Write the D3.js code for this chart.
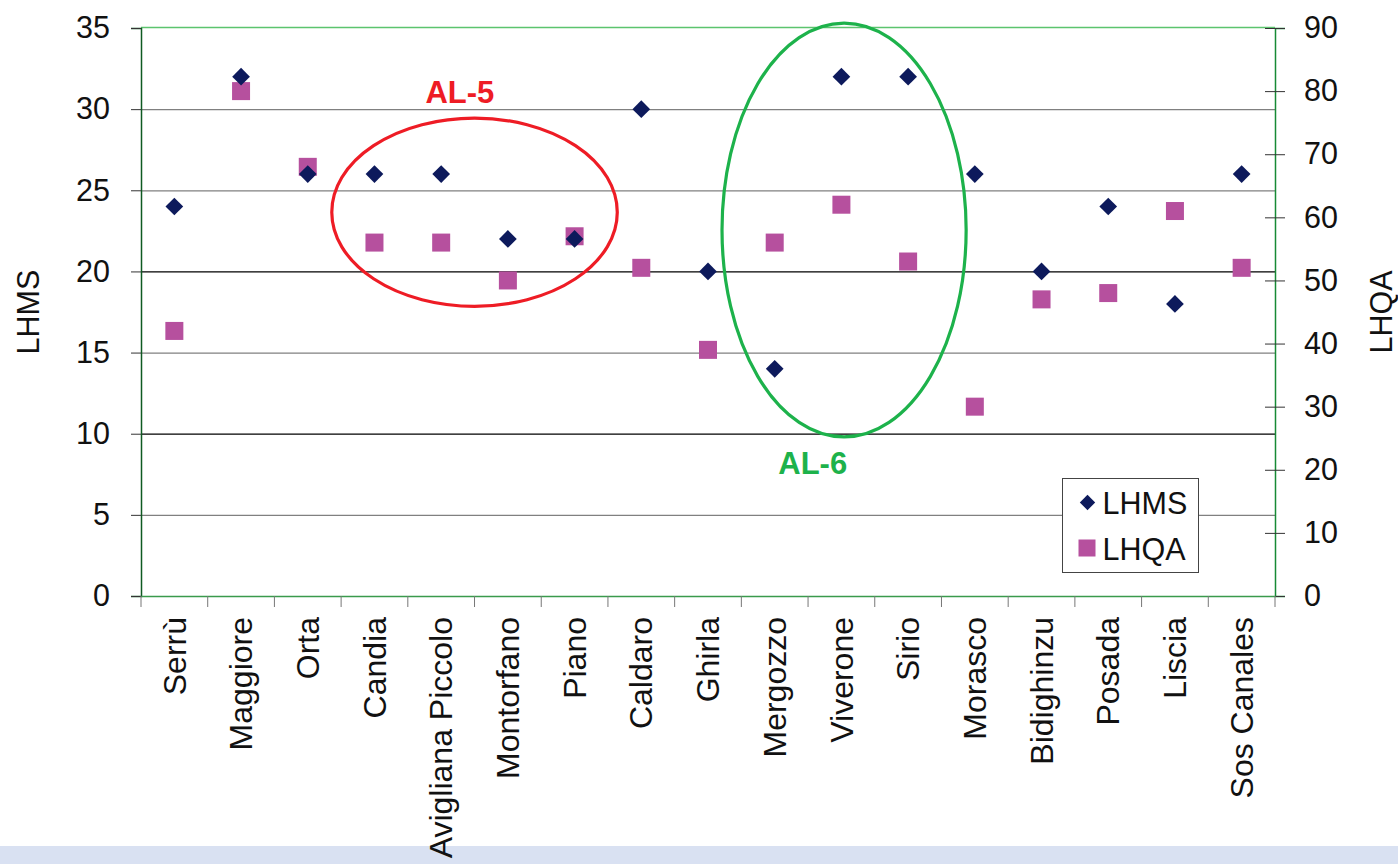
<!DOCTYPE html>
<html><head><meta charset="utf-8">
<script src="https://cdn.jsdelivr.net/npm/d3@7"></script>
<style>
html,body{margin:0;padding:0;background:#fff;}
svg text{font-family:"Liberation Sans",Arial,sans-serif;}
</style></head>
<body>
<svg id="chart" width="1398" height="864"></svg>
<script>
const categories = ["Serrù","Maggiore","Orta","Candia","Avigliana Piccolo","Montorfano","Piano","Caldaro","Ghirla","Mergozzo","Viverone","Sirio","Morasco","Bidighinzu","Posada","Liscia","Sos Canales"];
const lhms = [24,32,26,26,26,22,22,30,20,14,32,32,26,20,24,18,26];
const lhqa = [42,80,68,56,56,50,57,52,39,56,62,53,30,47,48,61,52];
const leftTicks = [0,5,10,15,20,25,30,35];
const rightTicks = [0,10,20,30,40,50,60,70,80,90];
// annotation groups: band position (index units), LHMS centre, radii in band units / LHMS units
const groups = [
  {label:"AL-5", pos:4.5, val:23.65, rx:2.14, ry:5.8, color:"#ee1c25", labelPos:4.28, labelVal:30.4},
  {label:"AL-6", pos:10.04, val:22.55, rx:1.83, ry:12.75, color:"#1db24b", labelPos:9.57, labelVal:7.5}
];

const svg = d3.select("#chart");
const L = 141, R = 1275, T = 28, B = 596;

const x = d3.scaleBand().domain(categories).range([L,R]).padding(0);
const xPos = p => L + x.step()*(p+0.5);
const yL = d3.scaleLinear().domain([0,35]).range([B,T]);
const yR = d3.scaleLinear().domain([0,90]).range([B,T]);

// bottom band
svg.append("rect").attr("x",0).attr("y",846).attr("width",1398).attr("height",18).attr("fill","#d9e1f2");

// gridlines
svg.append("g").selectAll("line").data(leftTicks.filter(d=>d>0 && d<35)).join("line")
  .attr("x1",L).attr("x2",R).attr("y1",d=>yL(d)+0.5).attr("y2",d=>yL(d)+0.5)
  .attr("stroke",d=>(d===10||d===20)?"#000":"#808080").attr("stroke-width",1.3);

// top border
svg.append("line").attr("x1",L).attr("x2",R).attr("y1",T-0.5).attr("y2",T-0.5).attr("stroke","#5cc46e").attr("stroke-width",1.5);

// left axis
const gl = svg.append("g").attr("transform",`translate(${L},0)`)
  .call(d3.axisLeft(yL).tickValues(leftTicks).tickSize(10).tickPadding(21));
gl.select(".domain").attr("stroke","#0f5a22").attr("stroke-width",1.5);
gl.selectAll(".tick line").attr("stroke","#333");
gl.selectAll("text").attr("font-size",30.5).attr("fill","#111").attr("font-family","Liberation Sans, Arial, sans-serif");

// right axis
const gr = svg.append("g").attr("transform",`translate(${R},0)`)
  .call(d3.axisRight(yR).tickValues(rightTicks).tickSize(10).tickPadding(19));
gr.select(".domain").attr("stroke","#178a35").attr("stroke-width",1.5);
gr.selectAll(".tick line").attr("x1",-10).attr("stroke","#333");
gr.selectAll("text").attr("font-size",30.5).attr("fill","#111").attr("font-family","Liberation Sans, Arial, sans-serif");

// bottom axis
const gb = svg.append("g").attr("transform",`translate(0,${B})`)
  .call(d3.axisBottom(x).tickSize(0).tickFormat(""));
gb.select(".domain").attr("stroke","#3a9a4c").attr("stroke-width",1.5);
// boundary ticks
svg.append("g").selectAll("line").data(d3.range(categories.length+1)).join("line")
  .attr("x1",i=>L+i*x.step()).attr("x2",i=>L+i*x.step())
  .attr("y1",B).attr("y2",B+11).attr("stroke","#777").attr("stroke-width",1);
// category labels
svg.append("g").selectAll("text").data(categories).join("text")
  .attr("transform",d=>`translate(${x(d)+x.bandwidth()/2},617) rotate(-90)`)
  .attr("text-anchor","end").attr("dy","0.35em")
  .attr("font-size",32).attr("fill","#111").text(d=>d);

// axis titles
svg.append("text").attr("transform","translate(28,312) rotate(-90)").attr("text-anchor","middle")
  .attr("dy","0.35em").attr("font-size",30.5).attr("fill","#111").text("LHMS");
svg.append("text").attr("transform","translate(1381,312) rotate(-90)").attr("text-anchor","middle")
  .attr("dy","0.35em").attr("font-size",30.5).attr("fill","#111").text("LHQA");

// ellipses
const sx = x.step(), sy = (B-T)/35;
svg.append("g").selectAll("ellipse").data(groups).join("ellipse")
  .attr("cx",d=>xPos(d.pos)).attr("cy",d=>yL(d.val))
  .attr("rx",d=>d.rx*sx).attr("ry",d=>d.ry*sy)
  .attr("fill","none").attr("stroke",d=>d.color).attr("stroke-width",3.2);
svg.append("g").selectAll("text").data(groups).join("text")
  .attr("x",d=>xPos(d.labelPos)).attr("y",d=>yL(d.labelVal))
  .attr("text-anchor","middle").attr("font-size",31).attr("font-weight","bold")
  .attr("font-family","Open Sans, Liberation Sans, sans-serif")
  .attr("fill",d=>d.color).text(d=>d.label);

// series
const diamond = d3.symbol().type(d3.symbolDiamond2).size(200);
svg.append("g").selectAll("rect").data(lhqa).join("rect")
  .attr("x",(d,i)=>x(categories[i])+x.bandwidth()/2-9).attr("y",d=>yR(d)-9)
  .attr("width",18).attr("height",18).attr("fill","#b6509e");
svg.append("g").selectAll("path").data(lhms).join("path")
  .attr("d",diamond)
  .attr("transform",(d,i)=>`translate(${x(categories[i])+x.bandwidth()/2},${yL(d)})`)
  .attr("fill","#0d1a5c");

// legend
const lg = svg.append("g").attr("transform","translate(1062.5,478.5)");
lg.append("rect").attr("width",136).attr("height",94).attr("fill","#fff").attr("stroke","#444").attr("stroke-width",1);
lg.append("path").attr("d",d3.symbol().type(d3.symbolDiamond2).size(150)).attr("transform","translate(25,24)").attr("fill","#0d1a5c");
lg.append("rect").attr("x",16).attr("y",61).attr("width",17).attr("height",17).attr("fill","#b6509e");
lg.append("text").attr("x",40).attr("y",35).attr("font-size",30.5).attr("fill","#111").text("LHMS");
lg.append("text").attr("x",40).attr("y",81).attr("font-size",30.5).attr("fill","#111").text("LHQA");
</script>
</body></html>
